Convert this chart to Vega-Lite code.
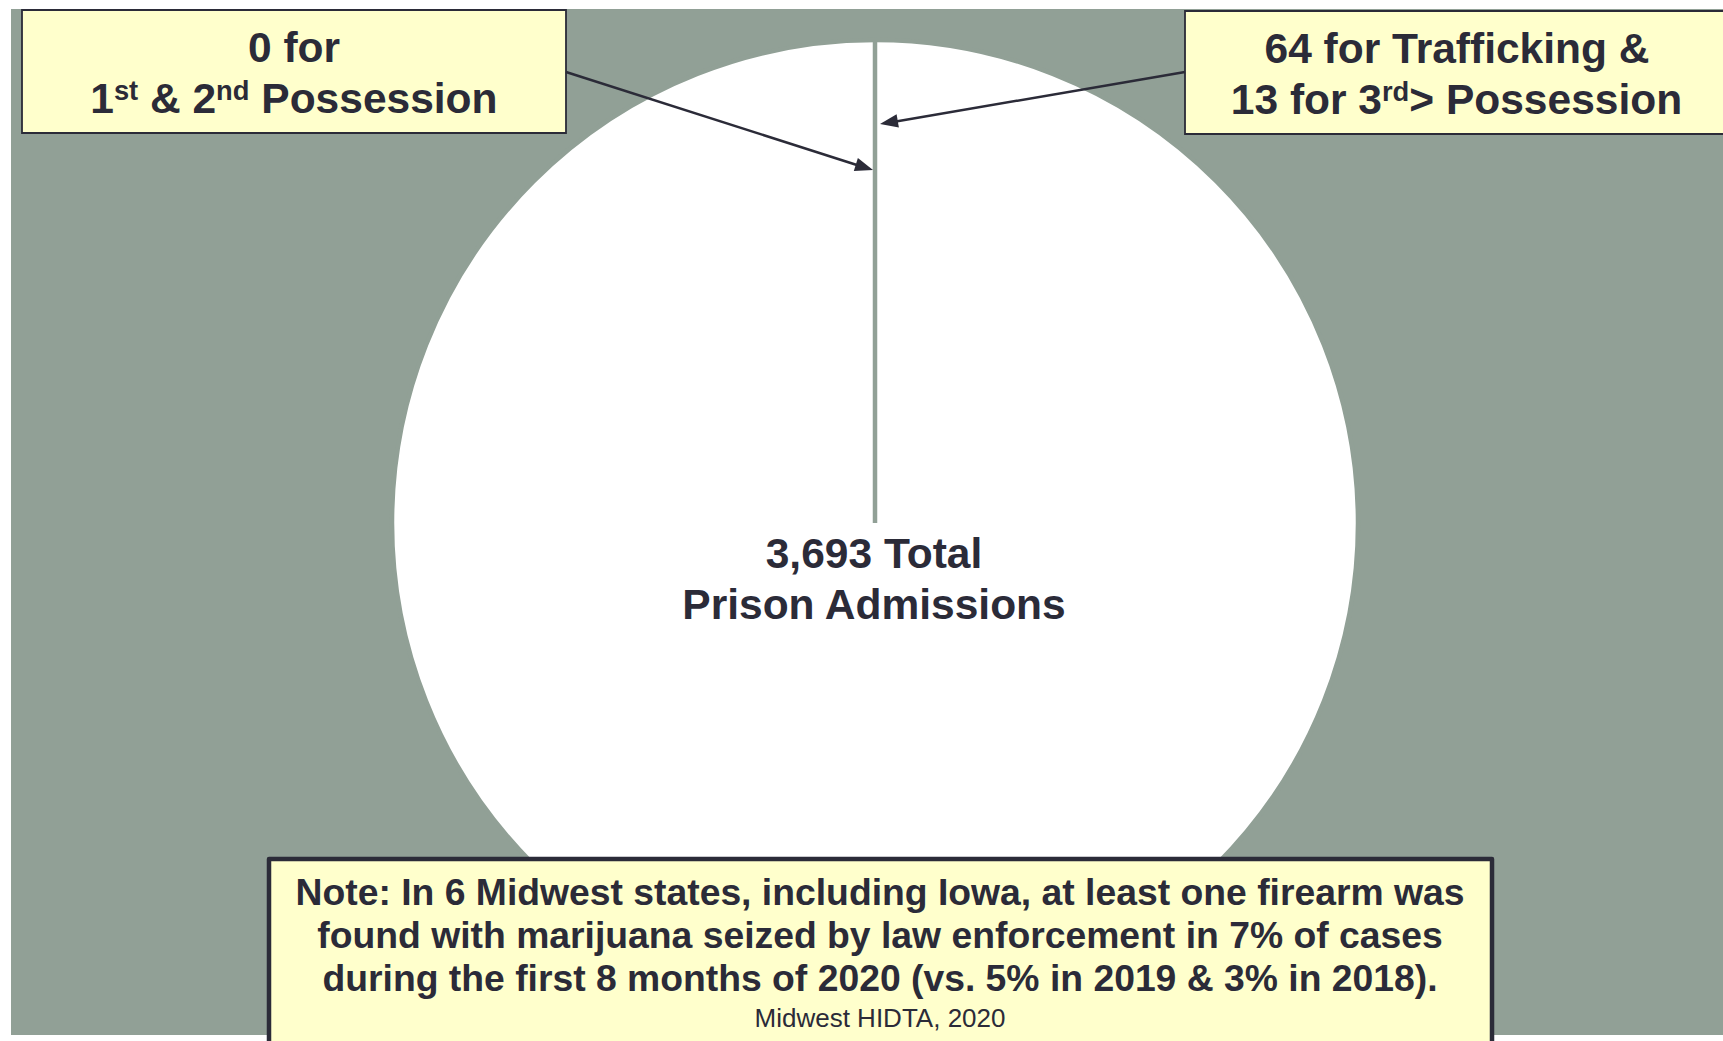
{
  "$schema": "https://vega.github.io/schema/vega-lite/v6.json",
  "width": 1723,
  "height": 1041,
  "autosize": {"type": "none"},
  "padding": 0,
  "background": "white",
  "config": {
    "view": {"stroke": null},
    "axis": {"disable": true},
    "text": {"font": "Liberation Sans", "fontWeight": "bold", "fill": "#2B2B38", "fontSize": 42.5}
  },
  "layer": [
    {
      "data": {"values": [{"panel": "background"}]},
      "mark": {"type": "rect", "fill": "#91A096"},
      "encoding": {
        "x": {"datum": 11, "type": "quantitative", "scale": {"domain": [0, 1723], "nice": false, "zero": false}, "axis": null},
        "x2": {"datum": 1723},
        "y": {"datum": 9, "type": "quantitative", "scale": {"domain": [0, 1041], "nice": false, "zero": false, "reverse": true}, "axis": null},
        "y2": {"datum": 1035}
      }
    },
    {
      "data": {"values": [
        {"category": "All other prison admissions", "admissions": 3693},
        {"category": "1st & 2nd Possession", "admissions": 0}
      ]},
      "mark": {"type": "arc", "fill": "white", "stroke": "#91A096", "strokeWidth": 4.5, "outerRadius": 483, "innerRadius": 0},
      "encoding": {
        "theta": {"field": "admissions", "type": "quantitative", "stack": true},
        "order": {"field": "admissions", "type": "quantitative", "sort": "descending"},
        "x": {"datum": 875, "type": "quantitative"},
        "y": {"datum": 523, "type": "quantitative"}
      }
    },
    {
      "data": {"values": [{"box": "possession"}]},
      "mark": {"type": "rect", "fill": "#FFFFCC", "stroke": "#2B2B38", "strokeWidth": 1.8},
      "encoding": {
        "x": {"datum": 22, "type": "quantitative"}, "x2": {"datum": 566},
        "y": {"datum": 10, "type": "quantitative"}, "y2": {"datum": 133}
      }
    },
    {
      "data": {"values": [{"box": "trafficking"}]},
      "mark": {"type": "rect", "fill": "#FFFFCC", "stroke": "#2B2B38", "strokeWidth": 1.8},
      "encoding": {
        "x": {"datum": 1185, "type": "quantitative"}, "x2": {"datum": 1735},
        "y": {"datum": 11, "type": "quantitative"}, "y2": {"datum": 134}
      }
    },
    {
      "data": {"values": [{"box": "note"}]},
      "mark": {"type": "rect", "fill": "#FFFFCC", "stroke": "#2B2B38", "strokeWidth": 4.5, "strokeJoin": "round"},
      "encoding": {
        "x": {"datum": 269, "type": "quantitative"}, "x2": {"datum": 1492},
        "y": {"datum": 859, "type": "quantitative"}, "y2": {"datum": 1050}
      }
    },
    {
      "data": {"values": [{"t": "0 for"}]},
      "mark": {"type": "text", "align": "center", "baseline": "alphabetic"},
      "encoding": {"text": {"field": "t"}, "x": {"datum": 294, "type": "quantitative"}, "y": {"datum": 62, "type": "quantitative"}}
    },
    {
      "data": {"values": [{"t": "1"}]},
      "mark": {"type": "text", "align": "left", "baseline": "alphabetic"},
      "encoding": {"text": {"field": "t"}, "x": {"datum": 90.3, "type": "quantitative"}, "y": {"datum": 113, "type": "quantitative"}}
    },
    {
      "data": {"values": [{"t": "st"}]},
      "mark": {"type": "text", "align": "left", "baseline": "alphabetic", "fontSize": 27.3},
      "encoding": {"text": {"field": "t"}, "x": {"datum": 113.9, "type": "quantitative"}, "y": {"datum": 100, "type": "quantitative"}}
    },
    {
      "data": {"values": [{"t": "& 2"}]},
      "mark": {"type": "text", "align": "left", "baseline": "alphabetic"},
      "encoding": {"text": {"field": "t"}, "x": {"datum": 150.0, "type": "quantitative"}, "y": {"datum": 113, "type": "quantitative"}}
    },
    {
      "data": {"values": [{"t": "nd"}]},
      "mark": {"type": "text", "align": "left", "baseline": "alphabetic", "fontSize": 27.3},
      "encoding": {"text": {"field": "t"}, "x": {"datum": 216.1, "type": "quantitative"}, "y": {"datum": 100, "type": "quantitative"}}
    },
    {
      "data": {"values": [{"t": "Possession"}]},
      "mark": {"type": "text", "align": "left", "baseline": "alphabetic"},
      "encoding": {"text": {"field": "t"}, "x": {"datum": 261.3, "type": "quantitative"}, "y": {"datum": 113, "type": "quantitative"}}
    },
    {
      "data": {"values": [{"t": "64 for Trafficking &"}]},
      "mark": {"type": "text", "align": "center", "baseline": "alphabetic"},
      "encoding": {"text": {"field": "t"}, "x": {"datum": 1457, "type": "quantitative"}, "y": {"datum": 63, "type": "quantitative"}}
    },
    {
      "data": {"values": [{"t": "13 for 3"}]},
      "mark": {"type": "text", "align": "left", "baseline": "alphabetic"},
      "encoding": {"text": {"field": "t"}, "x": {"datum": 1230.8, "type": "quantitative"}, "y": {"datum": 114, "type": "quantitative"}}
    },
    {
      "data": {"values": [{"t": "rd"}]},
      "mark": {"type": "text", "align": "left", "baseline": "alphabetic", "fontSize": 27.3},
      "encoding": {"text": {"field": "t"}, "x": {"datum": 1382.0, "type": "quantitative"}, "y": {"datum": 101, "type": "quantitative"}}
    },
    {
      "data": {"values": [{"t": "> Possession"}]},
      "mark": {"type": "text", "align": "left", "baseline": "alphabetic"},
      "encoding": {"text": {"field": "t"}, "x": {"datum": 1409.3, "type": "quantitative"}, "y": {"datum": 114, "type": "quantitative"}}
    },
    {
      "data": {"values": [{"t": ["3,693 Total", "Prison Admissions"]}]},
      "mark": {"type": "text", "align": "center", "baseline": "alphabetic", "lineHeight": 51},
      "encoding": {"text": {"field": "t"}, "x": {"datum": 874, "type": "quantitative"}, "y": {"datum": 568, "type": "quantitative"}}
    },
    {
      "data": {"values": [{"t": ["Note: In 6 Midwest states, including Iowa, at least one firearm was", "found with marijuana seized by law enforcement in 7% of cases", "during the first 8 months of 2020 (vs. 5% in 2019 & 3% in 2018)."]}]},
      "mark": {"type": "text", "align": "center", "baseline": "alphabetic", "fontSize": 37.3, "lineHeight": 43},
      "encoding": {"text": {"field": "t"}, "x": {"datum": 880, "type": "quantitative"}, "y": {"datum": 905, "type": "quantitative"}}
    },
    {
      "data": {"values": [{"t": "Midwest HIDTA, 2020"}]},
      "mark": {"type": "text", "align": "center", "baseline": "alphabetic", "fontSize": 26, "fontWeight": "normal"},
      "encoding": {"text": {"field": "t"}, "x": {"datum": 880, "type": "quantitative"}, "y": {"datum": 1027, "type": "quantitative"}}
    },
    {
      "data": {"values": [{"arrow": "to 1st & 2nd Possession"}]},
      "mark": {"type": "rule", "stroke": "#2B2B38", "strokeWidth": 2.5},
      "encoding": {
        "x": {"datum": 566, "type": "quantitative"}, "x2": {"datum": 860},
        "y": {"datum": 72, "type": "quantitative"}, "y2": {"datum": 166}
      }
    },
    {
      "data": {"values": [{"arrow": "to 1st & 2nd Possession"}]},
      "mark": {"type": "point", "shape": "M0,0L-2,-0.75L-2,0.75Z", "size": 324, "angle": 17.7, "filled": true, "fill": "#2B2B38", "opacity": 1, "strokeWidth": 0},
      "encoding": {"x": {"datum": 873, "type": "quantitative"}, "y": {"datum": 170, "type": "quantitative"}}
    },
    {
      "data": {"values": [{"arrow": "to Trafficking & 3rd Possession"}]},
      "mark": {"type": "rule", "stroke": "#2B2B38", "strokeWidth": 2.5},
      "encoding": {
        "x": {"datum": 1185, "type": "quantitative"}, "x2": {"datum": 893},
        "y": {"datum": 72, "type": "quantitative"}, "y2": {"datum": 122}
      }
    },
    {
      "data": {"values": [{"arrow": "to Trafficking & 3rd Possession"}]},
      "mark": {"type": "point", "shape": "M0,0L-2,-0.75L-2,0.75Z", "size": 324, "angle": 170.3, "filled": true, "fill": "#2B2B38", "opacity": 1, "strokeWidth": 0},
      "encoding": {"x": {"datum": 880, "type": "quantitative"}, "y": {"datum": 124, "type": "quantitative"}}
    }
  ]
}
